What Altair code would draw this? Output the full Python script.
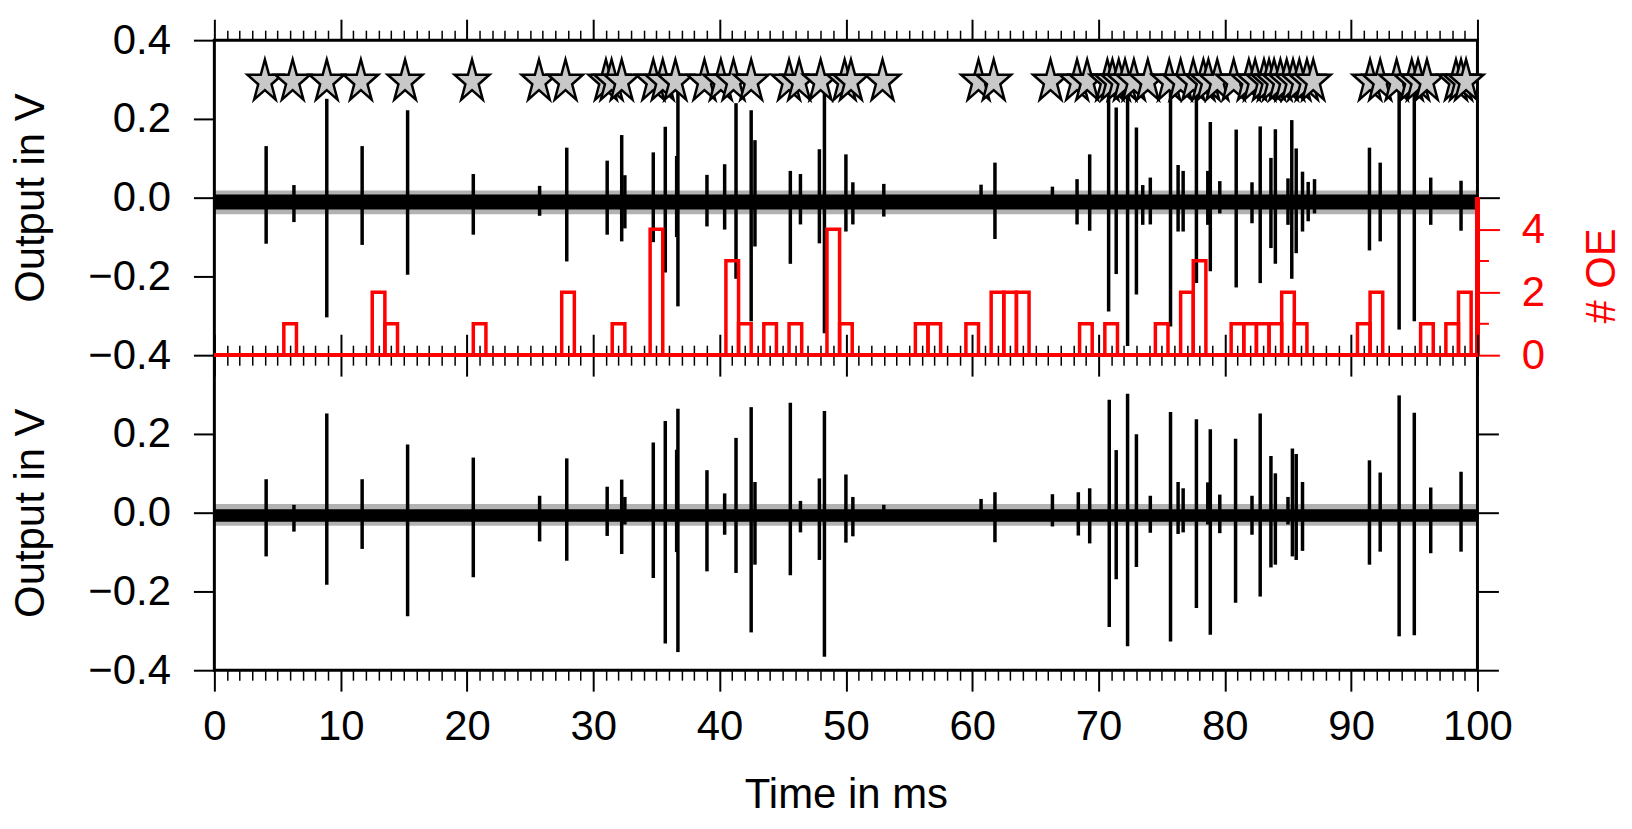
import altair as alt
import pandas as pd

FONT = "Liberation Sans"
RED = "#FF0000"

# spike events of the upper trace: time (ms), positive peak (V), negative peak (V)
top_t = [4.1, 6.3, 8.9, 11.7, 15.3, 20.5, 25.75, 27.9, 31.1, 32.25, 32.5, 34.75, 35.7, 36.6, 36.7,
         39.0, 40.4, 41.3, 42.5, 42.8, 45.6, 46.4, 47.9, 48.3, 50.0, 50.55, 53.0, 60.7, 61.8,
         66.35, 68.3, 69.3, 70.8, 71.4, 72.3, 73.0, 73.5, 74.1, 75.7, 76.3, 76.7, 77.75, 78.65,
         78.85, 79.6, 80.9, 82.15, 82.8, 83.65, 84.0, 85.0, 85.3, 85.65, 86.15, 86.6, 87.1,
         91.45, 92.3, 93.8, 95.0, 96.3, 98.7]
top_hi = [0.131, 0.032, 0.251, 0.131, 0.222, 0.06, 0.03, 0.127, 0.094, 0.159, 0.057, 0.115, 0.18, 0.106, 0.273,
          0.058, 0.085, 0.24, 0.222, 0.146, 0.068, 0.06, 0.123, 0.268, 0.11, 0.039, 0.035, 0.033, 0.089,
          0.028, 0.047, 0.11, 0.27, 0.229, 0.27, 0.178, 0.032, 0.051, 0.27, 0.083, 0.068, 0.27, 0.068,
          0.192, 0.042, 0.173, 0.039, 0.181, 0.101, 0.174, 0.049, 0.197, 0.125, 0.066, 0.04, 0.047,
          0.127, 0.089, 0.277, 0.277, 0.051, 0.043]
top_lo = [-0.117, -0.062, -0.304, -0.12, -0.196, -0.094, -0.046, -0.162, -0.094, -0.111, -0.078, -0.113, -0.19, -0.1, -0.276,
          -0.073, -0.081, -0.206, -0.314, -0.124, -0.168, -0.068, -0.116, -0.344, -0.086, -0.068, -0.048, -0.02, -0.105,
          -0.02, -0.068, -0.084, -0.289, -0.194, -0.377, -0.246, -0.069, -0.068, -0.327, -0.086, -0.086, -0.217, -0.069,
          -0.187, -0.04, -0.228, -0.065, -0.217, -0.128, -0.168, -0.069, -0.206, -0.141, -0.086, -0.06, -0.04,
          -0.134, -0.111, -0.335, -0.314, -0.069, -0.084]

# spike events of the lower trace
bot_t = [4.1, 6.3, 8.9, 11.7, 15.3, 20.5, 25.75, 27.9, 31.1, 32.25, 32.5, 34.75, 35.7, 36.6, 36.7,
         39.0, 40.4, 41.3, 42.5, 42.8, 45.6, 46.4, 47.9, 48.3, 50.0, 50.55, 53.0, 60.7, 61.8,
         66.35, 68.4, 69.3, 70.85, 71.4, 72.3, 73.0, 74.1, 75.7, 76.3, 76.7, 77.75, 78.65, 78.85,
         79.6, 80.85, 82.15, 82.8, 83.65, 84.0, 85.0, 85.35, 85.65, 86.15,
         91.45, 92.3, 93.8, 95.0, 96.3, 98.7]
bot_hi = [0.085, 0.02, 0.252, 0.085, 0.173, 0.14, 0.043, 0.138, 0.066, 0.084, 0.04, 0.178, 0.233, 0.16, 0.264,
          0.108, 0.049, 0.19, 0.268, 0.078, 0.279, 0.03, 0.087, 0.258, 0.097, 0.04, 0.02, 0.035, 0.052,
          0.047, 0.052, 0.062, 0.287, 0.159, 0.302, 0.199, 0.043, 0.256, 0.078, 0.062, 0.237, 0.077, 0.212,
          0.046, 0.188, 0.043, 0.252, 0.144, 0.1, 0.04, 0.163, 0.149, 0.078,
          0.133, 0.102, 0.298, 0.254, 0.064, 0.104]
bot_lo = [-0.111, -0.048, -0.183, -0.092, -0.263, -0.164, -0.073, -0.122, -0.059, -0.105, -0.03, -0.166, -0.332, -0.1, -0.354,
          -0.149, -0.056, -0.153, -0.304, -0.132, -0.159, -0.05, -0.12, -0.366, -0.076, -0.06, -0.02, -0.02, -0.075,
          -0.035, -0.058, -0.078, -0.29, -0.169, -0.339, -0.138, -0.051, -0.327, -0.054, -0.05, -0.242, -0.03, -0.31,
          -0.052, -0.229, -0.056, -0.213, -0.139, -0.132, -0.03, -0.111, -0.12, -0.097,
          -0.132, -0.099, -0.314, -0.311, -0.103, -0.099]

# background noise band of each trace: [low, high] in V
top_noise = [-0.03, 0.008]
top_fringe = [-0.042, 0.018]
bot_noise = [-0.023, 0.009]
bot_fringe = [-0.033, 0.022]

# detected events (stars)
star_t = [4.0, 6.2, 8.9, 11.6, 15.1, 20.4, 25.7, 27.8, 31.0, 31.45, 32.25, 34.75, 35.5, 36.5, 38.8,
          40.1, 41.1, 42.5, 45.5, 46.3, 48.0, 49.9, 50.4, 52.9, 60.5, 61.7, 66.2, 68.3, 69.1, 70.7,
          71.1, 71.6, 72.1, 72.8, 73.9, 75.6, 76.5, 77.5, 78.3, 78.7, 79.4, 80.7, 81.9, 82.4, 83.1,
          83.5, 83.9, 84.4, 84.9, 85.4, 85.9, 86.5, 87.0, 91.5, 92.3, 93.6, 94.8, 95.3, 96.0, 98.3,
          98.7, 99.1]
star_level = 0.3

# number of OE per 1 ms bin (bin centres in ms)
oe_bin = [6, 13, 14, 21, 28, 32, 35, 41, 42, 44, 46, 49, 50, 56, 57, 60, 62, 63, 64,
          69, 71, 75, 77, 78, 81, 82, 83, 84, 85, 86, 91, 92, 96, 98, 99]
oe_count = [1, 2, 1, 1, 2, 1, 4, 3, 1, 1, 1, 4, 1, 1, 1, 1, 2, 2, 2,
            1, 1, 1, 2, 3, 1, 1, 1, 1, 2, 1, 1, 2, 1, 1, 2]

STAR = ("M0,-1.094L0.2245,-0.258L0.9511,-0.258L0.3633,0.258L0.5878,1.095L0,0.578"
        "L-0.5878,1.095L-0.3633,0.258L-0.9511,-0.258L-0.2245,-0.258Z")

W, H = 1267, 316
x_scale = alt.Scale(domain=[0, 100], nice=False, zero=False)
v_scale = alt.Scale(domain=[-0.4, 0.4], nice=False, zero=False)
n_scale = alt.Scale(domain=[0, 10], nice=False, zero=False)

TICK_LEN = {"condition": {"test": "datum.value % 10 === 0", "value": 21}, "value": 10}
TICK_W = {"condition": {"test": "datum.value % 10 === 0", "value": 2}, "value": 1.5}


def x_axis(orient, labels=False, title=""):
    props = dict(orient=orient, values=list(range(101)), tickSize=TICK_LEN, tickWidth=TICK_W,
                 tickColor="black", labels=labels, title=title, domain=False, grid=False)
    if labels:
        props.update(labelExpr="datum.value % 10 === 0 ? datum.label : ''", labelFontSize=42,
                     labelFont=FONT, labelColor="black", labelPadding=16, labelOverlap=False,
                     labelFlush=False)
    if title:
        props.update(titleFontSize=42, titleFont=FONT, titleFontWeight="normal", titleColor="black",
                     titleX=W / 2, titleY=105, titleBaseline="top", titleAlign="center")
    return alt.Axis(**props)


def v_axis(values):
    return alt.Axis(orient="left", values=values, format=".1f", tickSize=21, tickWidth=2,
                    tickColor="black", labelFontSize=42, labelFont=FONT, labelColor="black",
                    labelPadding=23, title="Output in V", titleFontSize=42, titleFont=FONT,
                    titleFontWeight="normal", titleColor="black", titleAngle=270, titleX=-204,
                    titleY=H / 2, titleBaseline="top", titleAlign="center", domain=False, grid=False)


n_axis = alt.Axis(
    orient="right", values=[0, 1, 2, 3, 4, 5],
    labelExpr="datum.value % 2 === 0 && datum.value < 5 ? datum.label : ''",
    tickSize={"condition": {"test": "datum.value === 1 || datum.value === 3", "value": 11}, "value": 22},
    tickColor={"condition": {"test": "datum.value === 5", "value": "black"}, "value": RED},
    tickWidth=2, labelColor=RED, labelFontSize=42, labelFont=FONT, labelPadding=22,
    labelOverlap=False, title="# OE", titleColor=RED, titleFontSize=42, titleFont=FONT,
    titleFontWeight="normal", titleAngle=270, titleX=104, titleY=236, titleBaseline="top",
    titleAlign="center", domain=False, grid=False)

right_v_axis = alt.Axis(orient="right", values=[-0.4, -0.2, 0.0, 0.2], labels=False, tickSize=21,
                        tickWidth=2, tickColor="black", title="", domain=False, grid=False)


def trace_layers(t, hi, lo, noise, fringe, x_ax, y_ax):
    spikes = pd.DataFrame({"t": t, "hi": hi, "lo": lo})
    band = pd.DataFrame({"x0": [0, 0], "x1": [100, 100], "lo": [fringe[0], noise[0]],
                         "hi": [fringe[1], noise[1]], "op": [0.3, 1.0]})
    band_layer = alt.Chart(band).mark_rect(color="black").encode(
        x=alt.X("x0:Q", scale=x_scale, axis=None), x2="x1",
        y=alt.Y("lo:Q", scale=v_scale, axis=None), y2="hi",
        opacity=alt.Opacity("op:Q", scale=None, legend=None))
    spike_layer = alt.Chart(spikes).mark_rule(color="black", strokeWidth=3.5).encode(
        x=alt.X("t:Q", scale=x_scale, axis=x_ax),
        y=alt.Y("lo:Q", scale=v_scale, axis=y_ax), y2="hi")
    return band_layer, spike_layer, spikes


# upper panel
band_top, spikes_top, _ = trace_layers(top_t, top_hi, top_lo, top_noise, top_fringe,
                                       x_axis("bottom"), v_axis([-0.4, -0.2, 0.0, 0.2, 0.4]))
stars = alt.Chart(pd.DataFrame({"t": star_t, "y": [star_level] * len(star_t)})).mark_point(
    shape=STAR, size=1350, filled=True, fill="#C8C8C8", fillOpacity=1, stroke="black",
    strokeWidth=2.5, opacity=1).encode(
    x=alt.X("t:Q", scale=x_scale, axis=None), y=alt.Y("y:Q", scale=v_scale, axis=None))

hist = pd.DataFrame({"start": [b - 0.5 for b in oe_bin], "end": [b + 0.5 for b in oe_bin],
                     "count": oe_count})
hist_layer = alt.Chart(hist).mark_rect(fillOpacity=0, stroke=RED, strokeWidth=3.5).encode(
    x=alt.X("start:Q", scale=x_scale, axis=x_axis("top")), x2="end",
    y=alt.Y("count:Q", scale=n_scale, axis=n_axis),
    y2=alt.Y2Datum(0))
base_layer = alt.Chart(hist).mark_rule(color=RED, strokeWidth=3.5).encode(
    x=alt.XDatum(0, scale=x_scale, axis=None), x2=alt.X2Datum(100),
    y=alt.YDatum(0, scale=n_scale, axis=None))
axis_line = alt.Chart(hist).mark_rule(color=RED, strokeWidth=3.5).encode(
    x=alt.XDatum(100, scale=x_scale, axis=None),
    y=alt.YDatum(0, scale=n_scale, axis=None), y2=alt.Y2Datum(5))

top = alt.layer(band_top, spikes_top, stars, hist_layer, base_layer, axis_line).resolve_scale(
    y="independent").resolve_axis(x="independent", y="independent").properties(width=W, height=H)

# lower panel
band_bot, spikes_bot, spikes_bot_df = trace_layers(
    bot_t, bot_hi, bot_lo, bot_noise, bot_fringe,
    x_axis("bottom", labels=True, title="Time in ms"), v_axis([-0.4, -0.2, 0.0, 0.2]))
frame = alt.Chart(spikes_bot_df).mark_rule(opacity=0).encode(
    x=alt.X("t:Q", scale=x_scale, axis=x_axis("top")),
    y=alt.Y("hi:Q", scale=v_scale, axis=right_v_axis))
seam = alt.Chart(spikes_bot_df).mark_rule(color=RED, strokeWidth=3.5).encode(
    x=alt.XDatum(0, scale=x_scale, axis=None), x2=alt.X2Datum(100),
    y=alt.YDatum(0.4, scale=v_scale, axis=None))
bottom = alt.layer(band_bot, spikes_bot, frame, seam).resolve_axis(
    x="independent", y="independent").properties(width=W, height=H)

chart = alt.vconcat(top, bottom, spacing=0, bounds="flush").properties(
    padding={"left": 0, "top": 7, "right": 0, "bottom": 0}, background="white"
).configure_view(stroke="black", strokeWidth=3)

chart.save("out.html", embed_options={"renderer": "svg", "actions": False})
